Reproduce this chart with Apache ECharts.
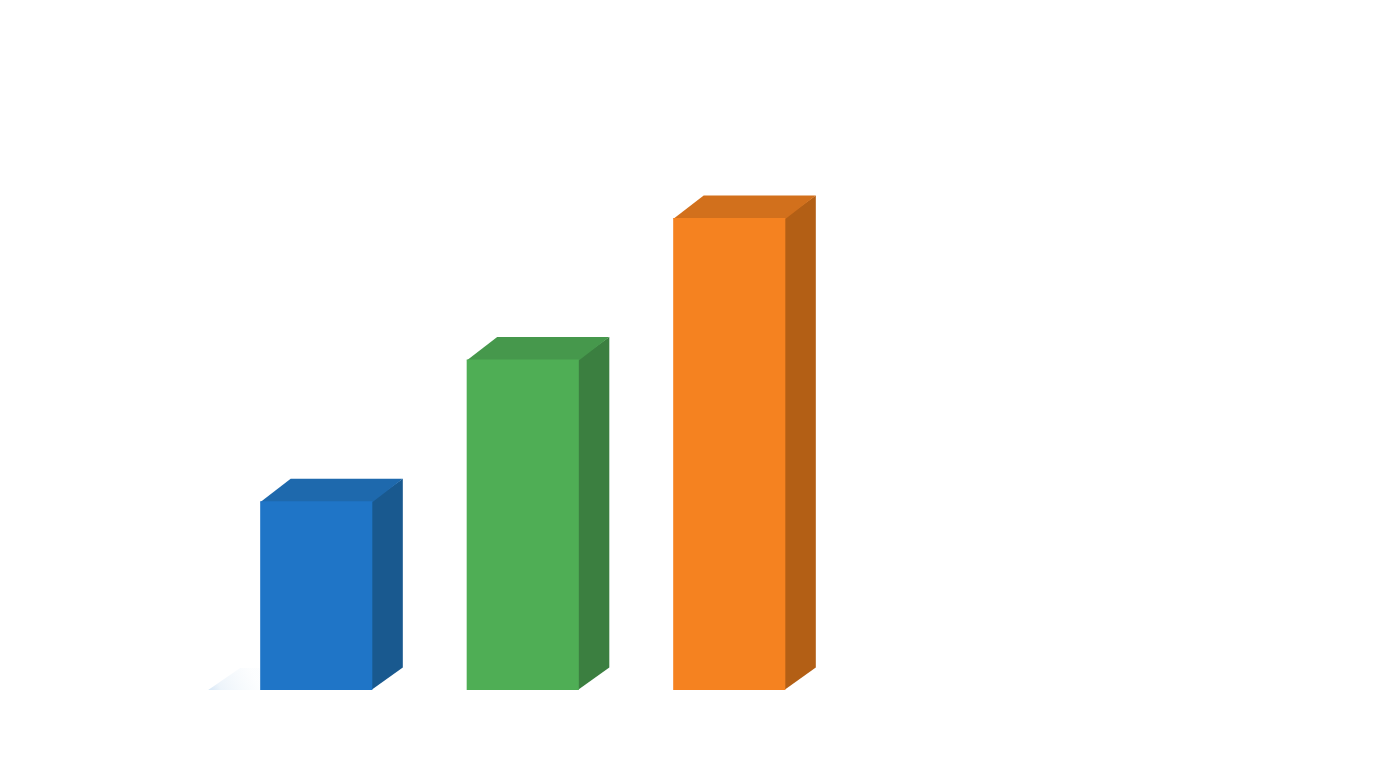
<!DOCTYPE html>
<html>
<head>
<meta charset="utf-8">
<style>html,body{margin:0;padding:0;background:#fff}#c{width:1376px;height:768px}</style>
<script src="https://cdn.jsdelivr.net/npm/echarts@6/dist/echarts.min.js"></script>
</head>
<body>
<div id="c"></div>
<script>
var categories = ['A', 'B', 'C'];
var values = [40, 70, 100];
var frontColors = ['#1f75c7', '#4fae55', '#f58220'];
var topColors = ['#1e69ad', '#46984c', '#d2701c'];
var sideColors = ['#19598f', '#3b7f40', '#b35f15'];

var DEPTH_X = 30.5, DEPTH_Y = 22.5;

function renderBox(params, api) {
  var i = api.value(0);
  var top = api.coord([i, api.value(1)]);
  var base = api.coord([i, 0]);
  var w = api.size([1, 0])[0] * 0.543;
  var l = top[0] - w / 2, r = top[0] + w / 2;
  var t = top[1], b = base[1];
  var children = [
    {
      type: 'polygon',
      shape: { points: [[r - 1, t], [r + DEPTH_X, t - DEPTH_Y], [r + DEPTH_X, b - DEPTH_Y], [r - 1, b]] },
      style: { fill: sideColors[i] }
    },
    {
      type: 'polygon',
      shape: { points: [[l, t + 1], [l + DEPTH_X, t - DEPTH_Y], [r + DEPTH_X, t - DEPTH_Y], [r, t + 1]] },
      style: { fill: topColors[i] }
    },
    {
      type: 'rect',
      shape: { x: l, y: t, width: r - l, height: b - t },
      style: { fill: frontColors[i] }
    }
  ];
  if (i === 0) {
    children.unshift({
      type: 'polygon',
      shape: { points: [[l - 52, b], [l - 20, b - 22], [l + 1, b - 22], [l + 1, b]] },
      style: {
        fill: {
          type: 'linear', x: 0, y: 1, x2: 0.8, y2: 0,
          colorStops: [
            { offset: 0, color: 'rgba(205,225,243,0.8)' },
            { offset: 0.25, color: 'rgba(232,241,249,0.8)' },
            { offset: 1, color: 'rgba(250,252,254,0.5)' }
          ]
        }
      }
    });
  }
  return { type: 'group', children: children };
}

var chart = echarts.init(document.getElementById('c'), null, { renderer: 'canvas' });
chart.setOption({
  animation: false,
  backgroundColor: '#ffffff',
  grid: { left: 213, top: 218, width: 619.5, height: 472 },
  xAxis: { type: 'category', data: categories, show: false },
  yAxis: { type: 'value', min: 0, max: 100, show: false },
  series: [{
    type: 'custom',
    clip: false,
    renderItem: renderBox,
    encode: { x: 0, y: 1 },
    data: values.map(function (v, i) { return [i, v]; })
  }]
});
</script>
</body>
</html>
